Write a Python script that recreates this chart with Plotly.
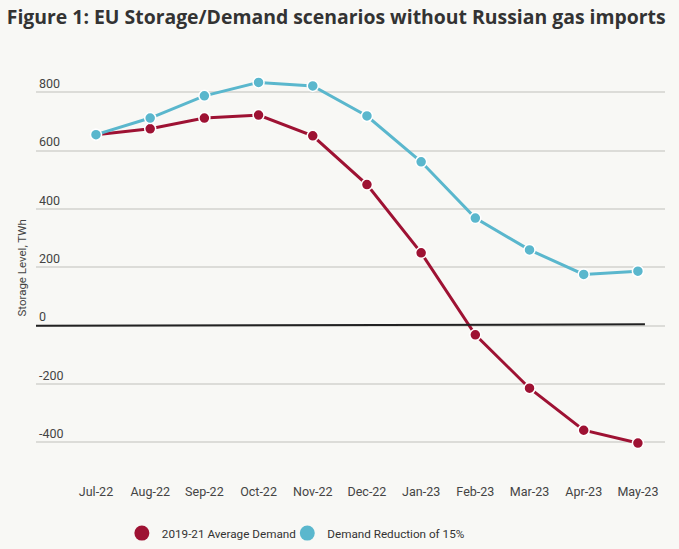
import plotly.graph_objects as go

months = ["Jul-22", "Aug-22", "Sep-22", "Oct-22", "Nov-22", "Dec-22",
          "Jan-23", "Feb-23", "Mar-23", "Apr-23", "May-23"]
avg_demand = [655, 675, 712, 722, 651, 484, 250, -31, -214, -358, -402]
reduced_demand = [655, 712, 788, 834, 822, 719, 562, 369, 260, 176, 187]
y_ticks = [-400, -200, 0, 200, 400, 600, 800]

RED = "#9e1233"
BLUE = "#5ab7cd"
BG = "#f8f8f5"
FONT = "Roboto, sans-serif"

xs = list(range(len(months)))
fig = go.Figure()
for name, vals, col, leg in [("2019-21 Average Demand", avg_demand, RED, "legend"),
                             ("Demand Reduction of 15%", reduced_demand, BLUE, "legend2")]:
    fig.add_trace(go.Scatter(
        x=xs, y=vals, mode="lines+markers", name=name, showlegend=False,
        line=dict(color=col, width=3),
        marker=dict(color=col, size=11, line=dict(color="white", width=1.5)),
    ))
    fig.add_trace(go.Scatter(
        x=[None], y=[None], mode="markers", name=name, showlegend=True, legend=leg,
        marker=dict(color=col, size=15),
    ))

fig.add_shape(type="line", xref="x", yref="y", x0=-1.107, x1=10.13, y0=0, y1=5,
              line=dict(color="#222222", width=2), layer="above")

fig.add_annotation(text="Storage Level, TWh", xref="paper", yref="paper",
                   x=-0.022, y=0.49, xanchor="center", yanchor="middle",
                   textangle=-90, showarrow=False,
                   font=dict(family=FONT, size=11.5, color="#444"))

leg_common = dict(orientation="h", y=-0.187, yanchor="middle", xanchor="left",
                  font=dict(family=FONT, size=11.7, color="#333"),
                  bgcolor="rgba(0,0,0,0)", itemwidth=30)

fig.update_layout(
    width=679, height=549,
    paper_bgcolor=BG, plot_bgcolor=BG,
    margin=dict(l=36, r=14, t=69, b=89, autoexpand=False),
    title=dict(text="<b>Figure 1: EU Storage/Demand scenarios without Russian gas imports</b>",
               x=0.01, xanchor="left", y=0.968, yanchor="middle",
               font=dict(family="Open Sans, sans-serif", size=19.4, color="#333")),
    legend=dict(x=0.1365, **leg_common),
    legend2=dict(x=0.3995, **leg_common),
    showlegend=True,
    font=dict(family=FONT, color="#444"),
)
fig.update_xaxes(range=[-1.107, 10.5], tickmode="array", tickvals=xs, ticktext=months,
                 showgrid=False, zeroline=False, showline=False, ticks="", automargin=False,
                 ticklabelstandoff=22, tickfont=dict(family=FONT, size=12.5, color="#444"))
fig.update_yaxes(range=[-460, 880], tickmode="array", tickvals=y_ticks,
                 ticktext=[str(v) for v in y_ticks], automargin=False,
                 showgrid=True, gridcolor="#dcdcd8", gridwidth=1.5, zeroline=False,
                 ticklabelposition="inside top", ticks="",
                 tickfont=dict(family=FONT, size=12.5, color="#444"))

fig.write_html("out.html")
